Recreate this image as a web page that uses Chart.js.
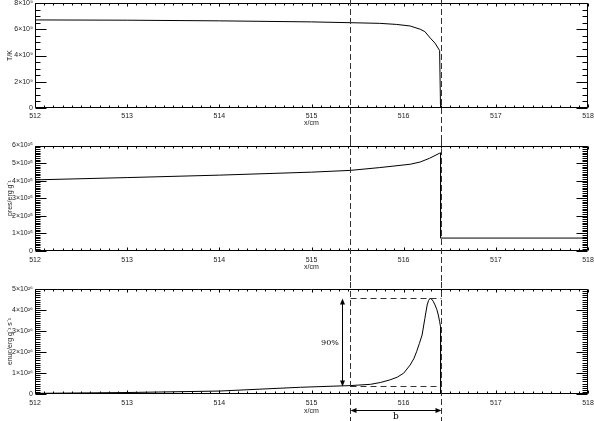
<!DOCTYPE html>
<html><head><meta charset="utf-8">
<script src="https://cdn.jsdelivr.net/npm/chart.js@4.4.1/dist/chart.umd.min.js"></script>
<style>
html,body{margin:0;padding:0;background:#fff;}
#wrap{position:relative;width:594px;height:421px;overflow:hidden;}
canvas{position:absolute;left:0;}
</style></head><body>
<div id="wrap">
<canvas id="c1" style="top:0px"></canvas>
<canvas id="c2" style="top:140px"></canvas>
<canvas id="c3" style="top:282px"></canvas>
</div>
<script>
// ---- data ----
const xTicks = [512, 513, 514, 515, 516, 517, 518];

const tempTicks = [0, 2, 4, 6, 8];
const tempExp = 9;
const tempX = [512, 513, 514, 515, 515.42, 515.74, 515.92, 516.07, 516.18, 516.23, 516.29, 516.34, 516.39, 516.40, 518];
const tempY = [6.71, 6.69, 6.64, 6.56, 6.50, 6.45, 6.37, 6.25, 6.00, 5.82, 5.32, 4.94, 4.38, 0, 0];

const presTicks = [0, 1, 2, 3, 4, 5, 6];
const presExp = 25;
const presX = [512, 513, 514, 515, 515.42, 515.74, 516.07, 516.18, 516.28, 516.39, 516.40, 516.40, 518];
const presY = [4.04, 4.17, 4.31, 4.48, 4.58, 4.74, 4.93, 5.06, 5.27, 5.56, 5.58, 0.72, 0.72];

const enucTicks = [0, 1, 2, 3, 4, 5];
const enucExp = 26;
const enucX = [512, 513, 514, 514.88, 515.42, 515.64, 515.75, 515.85, 515.93, 516.00, 516.07, 516.11, 516.14, 516.17, 516.20, 516.23, 516.255, 516.27, 516.286, 516.30, 516.32, 516.34, 516.36, 516.376, 516.39, 516.40, 516.40, 518];
const enucY = [0.03, 0.07, 0.14, 0.32, 0.40, 0.46, 0.55, 0.67, 0.80, 0.99, 1.38, 1.68, 2.01, 2.40, 2.81, 3.60, 4.24, 4.45, 4.56, 4.53, 4.42, 4.24, 4.02, 3.76, 3.45, 3.20, 0, 0];

// annotation values
const markerX = [515.418, 516.405];   // dashed vertical lines (flame width b)
const peakVal = 4.56, baseVal = 0.39;  // dashed horizontal levels in enuc panel
const arrowX = 515.334;                 // 90% arrow
const pctLabel = '90%';
const pctLabelX = 515.20;
const bLabel = 'b';

// ---- helpers ----
const SUP = {'0':'⁰','1':'¹','2':'²','3':'³','4':'⁴','5':'⁵','6':'⁶','7':'⁷','8':'⁸','9':'⁹','-':'⁻'};
const sup = s => String(s).split('').map(c => SUP[c] || c).join('');
const toPts = (xs, ys) => xs.map((x, i) => ({x, y: ys[i]}));

const TICK_FONT = {family: '"Liberation Sans", Arial, sans-serif', size: 7};
const TXT = '#222';

const frameTicks = {
  id: 'frameTicks',
  afterDatasetsDraw(chart, args, o) {
    const {ctx, chartArea: a, scales: {x, y}} = chart;
    ctx.save();
    ctx.strokeStyle = '#000';
    ctx.lineWidth = 1;
    const L = Math.round(a.left) + 0.5, R = Math.round(a.right) - 0.5;
    const T = Math.round(a.top) + 0.5, B = Math.round(a.bottom) - 0.5;
    ctx.beginPath();
    ctx.rect(L, T, R - L, B - T);
    const nx = Math.round((x.max - x.min) / o.xMinor);
    for (let i = 0; i <= nx; i++) {
      const v = x.min + i * o.xMinor;
      const px = Math.round(x.getPixelForValue(v)) + 0.5;
      const len = (i % o.xPer === 0) ? o.xMajLen : o.xMinLen;
      ctx.moveTo(px, B); ctx.lineTo(px, B - len);
      ctx.moveTo(px, T); ctx.lineTo(px, T + len);
    }
    const ny = Math.round((y.max - y.min) / o.yMinor);
    for (let i = 0; i <= ny; i++) {
      const v = y.min + i * o.yMinor;
      const py = Math.round(y.getPixelForValue(v)) + 0.5;
      const len = (i % o.yPer === 0) ? o.yMajLen : o.yMinLen;
      ctx.moveTo(L, py); ctx.lineTo(L + len, py);
      ctx.moveTo(R, py); ctx.lineTo(R - len, py);
    }
    ctx.stroke();
    ctx.restore();
  }
};

const markers = {
  id: 'markers',
  afterDraw(chart) {
    const {ctx, scales: {x}} = chart;
    ctx.save();
    ctx.strokeStyle = '#333';
    ctx.lineWidth = 1;
    ctx.setLineDash([6, 3]);
    ctx.beginPath();
    markerX.forEach(v => {
      const px = Math.round(x.getPixelForValue(v)) + 0.5;
      ctx.moveTo(px, 0); ctx.lineTo(px, chart.height);
    });
    ctx.stroke();
    ctx.restore();
  }
};

function arrowHead(ctx, x, y, dx, dy) {
  const len = 6, w = 2.5;
  const bx = x - dx * len, by = y - dy * len;
  ctx.beginPath();
  ctx.moveTo(x, y);
  ctx.lineTo(bx - dy * w, by + dx * w);
  ctx.lineTo(bx + dy * w, by - dx * w);
  ctx.closePath();
  ctx.fill();
}

const enucAnnot = {
  id: 'enucAnnot',
  afterDraw(chart) {
    const {ctx, chartArea: a, scales: {x, y}} = chart;
    const x0 = Math.round(x.getPixelForValue(markerX[0])) + 0.5;
    const x1 = Math.round(x.getPixelForValue(markerX[1])) + 0.5;
    const yP = Math.round(y.getPixelForValue(peakVal)) + 0.5;
    const yB = Math.round(y.getPixelForValue(baseVal)) + 0.5;
    ctx.save();
    ctx.strokeStyle = '#333';
    ctx.lineWidth = 1;
    ctx.setLineDash([6, 4]);
    ctx.beginPath();
    ctx.moveTo(x0, yP); ctx.lineTo(x1, yP);
    ctx.moveTo(x0, yB); ctx.lineTo(x1, yB);
    ctx.stroke();
    ctx.setLineDash([]);
    ctx.strokeStyle = '#000';
    ctx.fillStyle = '#000';
    const xa = Math.round(x.getPixelForValue(arrowX)) + 0.5;
    ctx.beginPath();
    ctx.moveTo(xa, yP + 4); ctx.lineTo(xa, yB - 4);
    ctx.stroke();
    arrowHead(ctx, xa, yP, 0, -1);
    arrowHead(ctx, xa, yB, 0, 1);
    ctx.font = '8px "DejaVu Serif", "Liberation Serif", serif';
    ctx.textAlign = 'center';
    ctx.textBaseline = 'middle';
    ctx.fillText(pctLabel, x.getPixelForValue(pctLabelX), (yP + yB) / 2);
    const yb = Math.round(a.bottom + 16) + 0.5;
    ctx.beginPath();
    ctx.moveTo(x0 + 4, yb); ctx.lineTo(x1 - 4, yb);
    ctx.stroke();
    arrowHead(ctx, x0, yb, -1, 0);
    arrowHead(ctx, x1, yb, 1, 0);
    ctx.font = '9px "DejaVu Serif", "Liberation Serif", serif';
    ctx.fillText(bLabel, (x0 + x1) / 2, a.bottom + 23);
    ctx.restore();
  }
};

function makeChart(id, h, cfg) {
  const cv = document.getElementById(id);
  cv.width = 594; cv.height = h;
  cv.style.width = '594px'; cv.style.height = h + 'px';
  const plugins = [frameTicks, markers];
  if (cfg.extra) plugins.push(cfg.extra);
  return new Chart(cv, {
    type: 'line',
    data: {datasets: [{
      data: cfg.data,
      borderColor: '#000',
      borderWidth: 1,
      pointRadius: 0,
      tension: 0,
      fill: false
    }]},
    plugins,
    options: {
      responsive: false,
      animation: false,
      devicePixelRatio: 1,
      events: [],
      layout: {padding: {top: cfg.padTop, right: 6, bottom: 0, left: 0}},
      plugins: {
        legend: {display: false},
        tooltip: {enabled: false},
        frameTicks: {xMinor: 0.1, xPer: 10, xMajLen: 3, xMinLen: 2,
                     yMinor: cfg.yMinor, yPer: cfg.yPer, yMajLen: 11, yMinLen: 5}
      },
      scales: {
        x: {
          type: 'linear', min: 512, max: 518,
          grid: {display: false, drawTicks: false, tickLength: 0}, border: {display: false},
          afterBuildTicks: s => { s.ticks = xTicks.map(v => ({value: v})); },
          afterFit: s => { s.height = cfg.xH; s.paddingLeft = 0; s.paddingRight = 0; s.paddingTop = 0; s.paddingBottom = 0; },
          ticks: {font: TICK_FONT, color: TXT, padding: cfg.xTickPad, maxRotation: 0, autoSkip: false,
                  callback: v => String(v)},
          title: {display: true, text: 'x/cm', font: TICK_FONT, color: TXT, padding: {top: 0, bottom: cfg.xTitlePad}}
        },
        y: {
          type: 'linear', min: cfg.yTicks[0], max: cfg.yTicks[cfg.yTicks.length - 1],
          grid: {display: false, drawTicks: false, tickLength: 0}, border: {display: false},
          afterBuildTicks: s => { s.ticks = cfg.yTicks.map(v => ({value: v})); },
          afterFit: s => { s.width = 35; s.paddingLeft = 0; s.paddingRight = 0; s.paddingTop = 0; s.paddingBottom = 0; },
          ticks: {font: TICK_FONT, color: TXT, padding: 2, autoSkip: false,
                  callback: v => v === 0 ? '0' : v + '×10' + sup(cfg.exp)},
          title: {display: true, text: cfg.yTitle, font: TICK_FONT, color: TXT, padding: {top: 6, bottom: 0}}
        }
      }
    }
  });
}

makeChart('c1', 140, {
  data: toPts(tempX, tempY), yTicks: tempTicks, exp: tempExp, yTitle: 'T/K',
  yMinor: 0.5, yPer: 4, padTop: 3, xH: 32, xTickPad: 4, xTitlePad: 12.5
});
makeChart('c2', 142, {
  data: toPts(presX, presY), yTicks: presTicks, exp: presExp, yTitle: 'pres/erg g' + sup('-1'),
  yMinor: 0.1, yPer: 10, padTop: 5.5, xH: 31.3, xTickPad: 5, xTitlePad: 10.8
});
makeChart('c3', 139, {
  data: toPts(enucX, enucY), yTicks: enucTicks, exp: enucExp, yTitle: 'enuc/erg g' + sup('-1') + ' s' + sup('-1'),
  yMinor: 0.1, yPer: 10, padTop: 7, xH: 27, xTickPad: 5, xTitlePad: 5.8, extra: enucAnnot
});
</script>
</body></html>
